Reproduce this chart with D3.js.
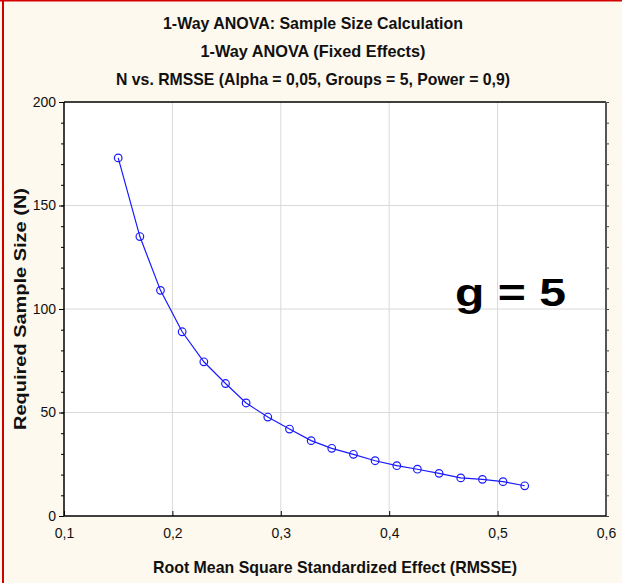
<!DOCTYPE html>
<html>
<head>
<meta charset="utf-8">
<script src="https://cdn.jsdelivr.net/npm/d3@7"></script>
<style>
  body { margin: 0; background: #fef9ee; }
  svg { display: block; }
  .narrow { font-family: "Liberation Sans Narrow", "Arial Narrow", "Liberation Sans", Arial, sans-serif; }
</style>
</head>
<body>
<div id="chart"></div>
<script>
// values
var rmsse = [0.150, 0.170, 0.189, 0.209, 0.229, 0.249, 0.268, 0.288, 0.308, 0.328,
  0.347, 0.367, 0.387, 0.407, 0.426, 0.446, 0.466, 0.486, 0.505, 0.525]
var sampleN = [173, 135, 109, 89, 74.5, 64, 54.6, 47.8, 42, 36.4,
  32.7, 29.8, 26.7, 24.3, 22.6, 20.6, 18.4, 17.7, 16.6, 14.6]
var xTicks = [0.1, 0.2, 0.3, 0.4, 0.5, 0.6]
var yTicks = [0, 50, 100, 150, 200]
var titleLines = [
  "1-Way ANOVA: Sample Size Calculation",
  "1-Way ANOVA (Fixed Effects)",
  "N vs. RMSSE (Alpha = 0,05, Groups = 5, Power = 0,9)"
]

var W = 622, H = 583
var margin = { top: 102, right: 16, bottom: 67, left: 64 }
var width = W - margin.left - margin.right,
  height = H - margin.top - margin.bottom

var svg = d3.select("#chart").append("svg")
  .attr("width", W)
  .attr("height", H)

svg.append("rect").attr("width", W).attr("height", H).attr("fill", "#fef9ee")
// red frame on the top and left edge
svg.append("line").attr("x1", 0).attr("x2", W).attr("y1", 0.5).attr("y2", 0.5)
  .attr("stroke", "#d40000").attr("stroke-width", 2)
svg.append("line").attr("x1", 3).attr("x2", 3).attr("y1", 0).attr("y2", H)
  .attr("stroke", "#d40000").attr("stroke-width", 2)

var g = svg.append("g")
  .attr("transform", "translate(" + margin.left + "," + margin.top + ")")

var x = d3.scaleLinear().domain([0.1, 0.6]).range([0, width])
var y = d3.scaleLinear().domain([0, 200]).range([height, 0])

g.append("rect").attr("width", width).attr("height", height).attr("fill", "#fff")

// grid
g.append("g").selectAll("line")
  .data(xTicks.slice(1, -1))
  .enter().append("line")
  .attr("x1", d => x(d)).attr("x2", d => x(d))
  .attr("y1", 0).attr("y2", height)
  .attr("stroke", "#d9d9d9")
g.append("g").selectAll("line")
  .data(yTicks.slice(1, -1))
  .enter().append("line")
  .attr("y1", d => y(d)).attr("y2", d => y(d))
  .attr("x1", 0).attr("x2", width)
  .attr("stroke", "#d9d9d9")

// axes
var yMinor = d3.range(0, 201, 10)
var fmt = d => d3.format(".1f")(d).replace(".", ",")

var left = g.append("g")
  .call(d3.axisLeft(y).tickValues(yTicks).tickSize(5).tickPadding(3))
left.select(".domain").remove()
left.selectAll("text").attr("class", "narrow").style("font-size", "14px").attr("fill", "#111")
g.append("g")
  .call(d3.axisLeft(y).tickValues(yMinor).tickSize(3).tickFormat(""))
  .select(".domain").remove()

var right = g.append("g")
  .attr("transform", "translate(" + width + ",0)")
  .call(d3.axisRight(y).tickValues(yMinor).tickSize(3).tickFormat(""))
right.select(".domain").remove()
right.selectAll("line").attr("stroke", "#444")

var bottom = g.append("g")
  .attr("transform", "translate(0," + height + ")")
  .call(d3.axisBottom(x).tickValues(xTicks).tickSize(-5).tickPadding(12).tickFormat(fmt))
bottom.select(".domain").remove()
bottom.selectAll("text").attr("class", "narrow").style("font-size", "14px").attr("fill", "#111")

// frame
g.append("line").attr("x1", 0).attr("x2", width).attr("y1", 0).attr("y2", 0).attr("stroke", "#000").attr("stroke-width", 1.5)
g.append("line").attr("x1", width).attr("x2", width).attr("y1", 0).attr("y2", height).attr("stroke", "#555").attr("stroke-width", 2)
g.append("line").attr("x1", 0).attr("x2", width).attr("y1", height).attr("y2", height).attr("stroke", "#000").attr("stroke-width", 1.5)
g.append("line").attr("x1", 0).attr("x2", 0).attr("y1", 0).attr("y2", height).attr("stroke", "#000").attr("stroke-width", 1.5)

// series
var pts = rmsse.map((d, i) => [d, sampleN[i]])
g.append("path")
  .datum(pts)
  .attr("fill", "none")
  .attr("stroke", "#1a1aff")
  .attr("stroke-width", 1.2)
  .attr("d", d3.line().x(d => x(d[0])).y(d => y(d[1])))
g.append("g").selectAll("circle")
  .data(pts)
  .enter().append("circle")
  .attr("cx", d => x(d[0]))
  .attr("cy", d => y(d[1]))
  .attr("r", 3.8)
  .attr("fill", "none")
  .attr("stroke", "#1a1aff")
  .attr("stroke-width", 1.2)

// titles
var titleW = [300, 225, 394]
svg.append("g").selectAll("text")
  .data(titleLines)
  .enter().append("text")
  .attr("class", "narrow")
  .attr("x", (d, i) => 313 - titleW[i] / 2)
  .attr("y", (d, i) => 29 + i * 28)
  .attr("textLength", (d, i) => titleW[i])
  .attr("lengthAdjust", "spacingAndGlyphs")
  .style("font-size", "17px")
  .style("font-weight", "bold")
  .attr("fill", "#111")
  .text(d => d)

svg.append("text")
  .attr("class", "narrow")
  .attr("x", 153).attr("y", 573)
  .attr("textLength", 364)
  .attr("lengthAdjust", "spacingAndGlyphs")
  .style("font-size", "17px")
  .style("font-weight", "bold")
  .attr("fill", "#111")
  .text("Root Mean Square Standardized Effect (RMSSE)")

svg.append("text")
  .attr("transform", "translate(26,430) rotate(-90)")
  .attr("textLength", 242)
  .attr("lengthAdjust", "spacingAndGlyphs")
  .style("font-family", "'Liberation Sans', Arial, sans-serif")
  .style("font-size", "17px")
  .style("font-weight", "bold")
  .attr("fill", "#111")
  .text("Required Sample Size (N)")

svg.append("text")
  .attr("x", 455).attr("y", 306)
  .attr("textLength", 111)
  .attr("lengthAdjust", "spacingAndGlyphs")
  .style("font-family", "'Liberation Sans', Arial, sans-serif")
  .style("font-size", "39px")
  .style("font-weight", "bold")
  .attr("fill", "#000")
  .text("g = 5")
</script>
</body>
</html>
